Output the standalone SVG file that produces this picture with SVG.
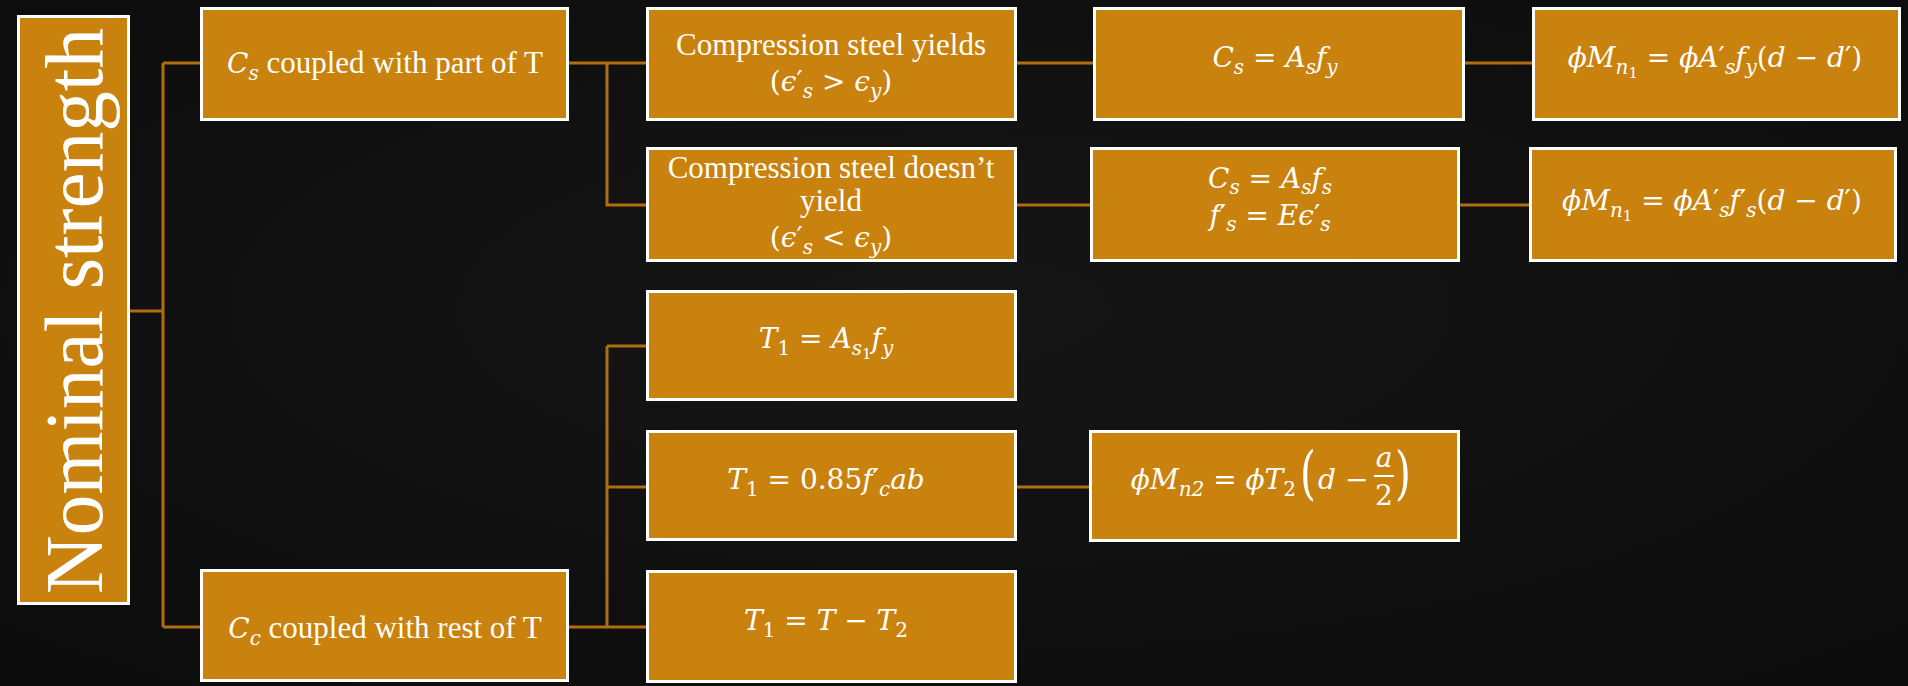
<svg xmlns="http://www.w3.org/2000/svg" width="1908" height="686" viewBox="0 0 1908 686">
<defs>
<radialGradient id="bg" cx="50%" cy="45%" r="75%">
<stop offset="0" stop-color="#161616"/>
<stop offset="1" stop-color="#0b0b0b"/>
</radialGradient>
<style>
.box{fill:#C9820D;stroke:#ffffff;stroke-width:3}
.con{fill:none;stroke:#B06E0E;stroke-width:3}
.t{font-family:"Liberation Serif",serif;font-size:31px;fill:#ffffff}
.m{font-family:"DejaVu Serif",serif;font-style:italic;font-size:28px;fill:#ffffff}
.u{font-style:normal}
.s{font-size:20px}
.ss{font-size:15px}
.par{font-family:"DejaVu Serif",serif;font-style:normal;font-size:58px;fill:#ffffff}
.big{font-family:"Liberation Serif",serif;font-size:82px;fill:#ffffff}
</style>
</defs>
<rect x="0" y="0" width="1908" height="686" fill="url(#bg)"/>

<g id="connectors">
<path class="con" d="M130,311 H163 M163,63 V627 M163,63 H200 M163,627 H200"/>
<path class="con" d="M569,63 H646 M607,63 V205 H646"/>
<path class="con" d="M569,627 H646 M607,346 V627 M607,346 H646 M607,487 H646"/>
<path class="con" d="M1017,63 H1093 M1465,63 H1532"/>
<path class="con" d="M1017,205 H1090 M1460,205 H1529"/>
<path class="con" d="M1017,487 H1089"/>
</g>

<g id="nominal">
<rect class="box" x="18.5" y="16.5" width="110" height="587"/>
<text class="big" transform="translate(102,311) rotate(-90)" x="0" y="0" text-anchor="middle" textLength="566" lengthAdjust="spacingAndGlyphs">Nominal strength</text>
</g>

<g id="cs">
<rect class="box" x="201.5" y="8.5" width="366" height="111"/>
<text class="t" x="385" y="73" text-anchor="middle"><tspan class="m">C</tspan><tspan class="m s" dy="7">s</tspan><tspan dy="-7"> coupled with part of T</tspan></text>
</g>

<g id="cc">
<rect class="box" x="201.5" y="570.5" width="366" height="110"/>
<text class="t" x="385" y="638" text-anchor="middle"><tspan class="m">C</tspan><tspan class="m s" dy="7">c</tspan><tspan dy="-7"> coupled with rest of T</tspan></text>
</g>

<g id="yields">
<rect class="box" x="647.5" y="8.5" width="368" height="111"/>
<text class="t" x="831" y="55" text-anchor="middle">Compression steel yields</text>
<text class="m" x="831" y="91" text-anchor="middle"><tspan class="u">(</tspan>ϵ<tspan class="u">′</tspan><tspan class="s" dy="7">s</tspan><tspan class="u" dy="-7"> &gt; </tspan>ϵ<tspan class="s" dy="7">y</tspan><tspan class="u" dy="-7">)</tspan></text>
</g>

<g id="noyield">
<rect class="box" x="647.5" y="148.5" width="368" height="112"/>
<text class="t" x="831" y="178" text-anchor="middle">Compression steel doesn’t</text>
<text class="t" x="831" y="211" text-anchor="middle">yield</text>
<text class="m" x="831" y="247" text-anchor="middle"><tspan class="u">(</tspan>ϵ<tspan class="u">′</tspan><tspan class="s" dy="7">s</tspan><tspan class="u" dy="-7"> &lt; </tspan>ϵ<tspan class="s" dy="7">y</tspan><tspan class="u" dy="-7">)</tspan></text>
</g>

<g id="t1a">
<rect class="box" x="647.5" y="291.5" width="368" height="108"/>
<text class="m" x="826" y="348" text-anchor="middle">T<tspan class="u s" dy="7">1</tspan><tspan class="u" dy="-7"> = </tspan>A<tspan class="s" dy="7">s</tspan><tspan class="u ss" dy="4">1</tspan><tspan dy="-11">f</tspan><tspan class="s" dy="7">y</tspan></text>
</g>

<g id="t1b">
<rect class="box" x="647.5" y="431.5" width="368" height="108"/>
<text class="m" x="826" y="489" text-anchor="middle">T<tspan class="u s" dy="7">1</tspan><tspan class="u" dy="-7"> = 0.85</tspan>f<tspan class="u">′</tspan><tspan class="s" dy="7">c</tspan><tspan dy="-7">ab</tspan></text>
</g>

<g id="t1c">
<rect class="box" x="647.5" y="571.5" width="368" height="110"/>
<text class="m" x="826" y="630" text-anchor="middle">T<tspan class="u s" dy="7">1</tspan><tspan class="u" dy="-7"> = </tspan>T<tspan class="u"> − </tspan>T<tspan class="u s" dy="7">2</tspan></text>
</g>

<g id="csfy">
<rect class="box" x="1094.5" y="8.5" width="369" height="111"/>
<text class="m" x="1275" y="67" text-anchor="middle">C<tspan class="s" dy="7">s</tspan><tspan class="u" dy="-7"> = </tspan>A<tspan class="s" dy="7">s</tspan><tspan dy="-7">f</tspan><tspan class="s" dy="7">y</tspan></text>
</g>

<g id="csfs">
<rect class="box" x="1091.5" y="148.5" width="367" height="112"/>
<text class="m" x="1270" y="188" text-anchor="middle">C<tspan class="s" dy="6">s</tspan><tspan class="u" dy="-6"> = </tspan>A<tspan class="s" dy="6">s</tspan><tspan dy="-6">f</tspan><tspan class="s" dy="6">s</tspan></text>
<text class="m" x="1270" y="225" text-anchor="middle">f<tspan class="u">′</tspan><tspan class="s" dy="6">s</tspan><tspan class="u" dy="-6"> = </tspan>Eϵ<tspan class="u">′</tspan><tspan class="s" dy="6">s</tspan></text>
</g>

<g id="mn1a">
<rect class="box" x="1533.5" y="8.5" width="366" height="111"/>
<text class="m" x="1715" y="67" text-anchor="middle">ϕM<tspan class="s" dy="7">n</tspan><tspan class="u ss" dy="4">1</tspan><tspan class="u" dy="-11"> = </tspan>ϕA<tspan class="u">′</tspan><tspan class="s" dy="7">s</tspan><tspan dy="-7">f</tspan><tspan class="s" dy="7">y</tspan><tspan class="u" dy="-7">(</tspan>d<tspan class="u"> − </tspan>d<tspan class="u">′)</tspan></text>
</g>

<g id="mn1b">
<rect class="box" x="1530.5" y="148.5" width="365" height="112"/>
<text class="m" x="1712" y="210" text-anchor="middle">ϕM<tspan class="s" dy="7">n</tspan><tspan class="u ss" dy="4">1</tspan><tspan class="u" dy="-11"> = </tspan>ϕA<tspan class="u">′</tspan><tspan class="s" dy="7">s</tspan><tspan dy="-7">f</tspan><tspan class="u">′</tspan><tspan class="s" dy="7">s</tspan><tspan class="u" dy="-7">(</tspan>d<tspan class="u"> − </tspan>d<tspan class="u">′)</tspan></text>
</g>

<g id="mn2">
<rect class="box" x="1090.5" y="431.5" width="368" height="109"/>
<text class="m" x="1296" y="489" text-anchor="end">ϕM<tspan class="s" dy="7">n2</tspan><tspan class="u" dy="-7"> = </tspan>ϕT<tspan class="u s" dy="7">2</tspan></text>
<text class="par" transform="translate(1300,493) scale(0.7,1)" x="0" y="0">(</text>
<text class="m" x="1318" y="489">d</text>
<text class="m u" x="1345" y="489">−</text>
<text class="m" x="1384" y="467" text-anchor="middle">a</text>
<line x1="1374" y1="476" x2="1394" y2="476" stroke="#ffffff" stroke-width="2"/>
<text class="m u" x="1384" y="505" text-anchor="middle">2</text>
<text class="par" transform="translate(1395,493) scale(0.7,1)" x="0" y="0">)</text>
</g>
</svg>
